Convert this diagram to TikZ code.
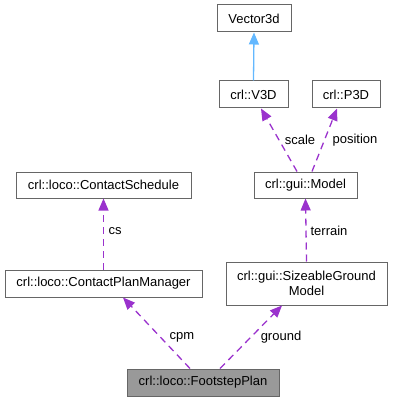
\documentclass[tikz,border=0pt]{standalone}
\usepackage{fontspec}
\setmainfont{Liberation Sans}
\usepackage{tikz}
\usetikzlibrary{arrows.meta}
\definecolor{edgepurple}{HTML}{9A32CD}
\definecolor{edgeblue}{HTML}{63B8FF}
\definecolor{boxline}{HTML}{666666}
\definecolor{boxgray}{HTML}{999999}
\tikzset{cls/.style={draw=boxline, fill=white, line width=1pt, minimum height=27pt,
		inner sep=0pt, font=\fontsize{13}{15}\selectfont},
	focus/.style={cls, fill=boxgray},
	uses/.style={edgepurple, line width=1.3pt, dash pattern=on 7pt off 5pt,
		-{Triangle[length=12pt,width=10pt]}},
	inherit/.style={edgeblue, line width=1.3pt, -{Triangle[length=12pt,width=10pt]}},
	lbl/.style={inner sep=0pt, font=\fontsize{13}{15}\selectfont}}

\begin{document}
\begin{tikzpicture}[x=1pt,y=-1pt]
			\useasboundingbox (0,0) rectangle (392,401);
			% classes
			\node[cls,minimum width=74pt] (vec) at (254,18.5) {Vector3d};
			\node[cls,minimum width=69pt] (v3d) at (253.5,94.5) {crl::V3D};
			\node[cls,minimum width=68pt] (p3d) at (346,94.5) {crl::P3D};
			\node[cls,minimum width=103pt,minimum height=26pt] (model) at (305.5,185) {crl::gui::Model};
			\node[cls,minimum width=175pt,minimum height=26pt] (sched) at (103.5,185) {crl::loco::ContactSchedule};
			\node[cls,minimum width=197pt] (cpm) at (103.5,283.5) {crl::loco::ContactPlanManager};
			\node[cls,minimum width=161pt,minimum height=43pt,align=center] (ground) at (306.5,283.5) {crl::gui::SizeableGround\\Model};
			\node[focus,minimum width=152pt] (plan) at (203,382.5) {crl::loco::FootstepPlan};
			% inheritance
			\draw[inherit] (v3d.north) -- (vec.south);
			% members
			\draw[uses] ([xshift=-8.5pt]model.north) -- ([xshift=7.5pt]v3d.south);
			\draw[uses] ([xshift=6.5pt]model.north) -- ([xshift=-9pt]p3d.south);
			\draw[uses] (ground.north) -- (model.south);
			\draw[uses] (cpm.north) -- (sched.south);
			\draw[uses] ([xshift=-13pt]plan.north) -- ([xshift=19.5pt]cpm.south);
			\draw[uses] ([xshift=17pt]plan.north) -- ([xshift=-24.5pt]ground.south);
			% member names
			\node[lbl] (lscale) at (300,140) {scale};
			\node[lbl] (lpos) at (355,140) {position};
			\node[lbl] (lterrain) at (329,231) {terrain};
			\node[lbl] (lcs) at (115,231) {cs};
			\node[lbl] (lcpm) at (182,337) {cpm};
			\node[lbl] (lground) at (281,337) {ground};
		\end{tikzpicture}
\end{document}
